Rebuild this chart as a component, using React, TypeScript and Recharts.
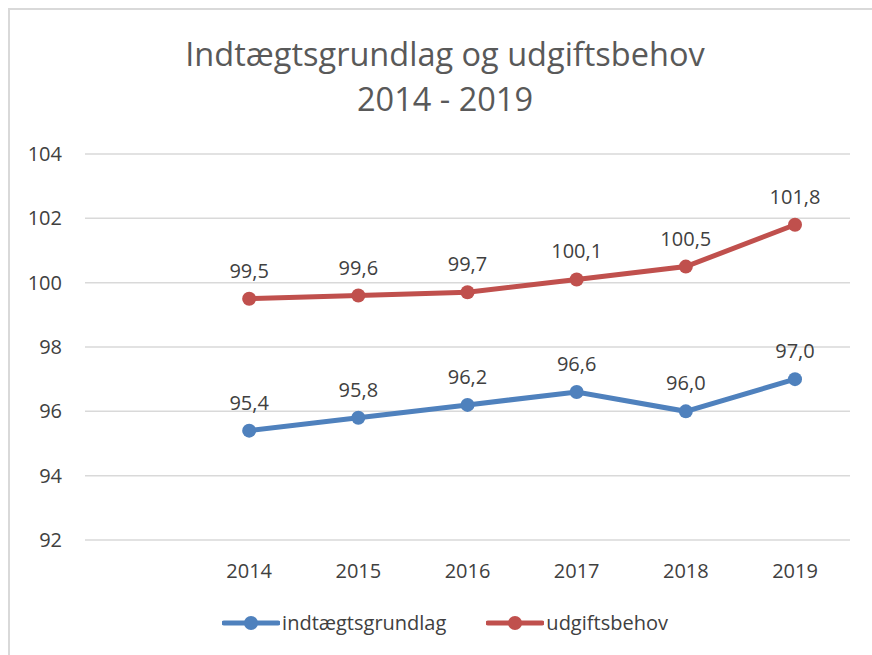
import { LineChart, Line, XAxis, YAxis, CartesianGrid, LabelList } from "recharts";

// første kategori er tom (Excel-diagrammet har en tom plads før 2014)
const years = ["", "2014", "2015", "2016", "2017", "2018", "2019"];
const indtaegt = [null, 95.4, 95.8, 96.2, 96.6, 96.0, 97.0];
const udgift = [null, 99.5, 99.6, 99.7, 100.1, 100.5, 101.8];
const yTicks = [92, 94, 96, 98, 100, 102, 104];

const BLUE = "#4f81bd";
const RED = "#c0504d";
const TEXT = "#404040";
const GRID = "#d9d9d9";
const FONT = "'Open Sans', 'Noto Sans', sans-serif";

const data = years.map((y, i) => ({ year: y, indtaegt: indtaegt[i], udgift: udgift[i] }));

const fmt = (v: any) => (v == null ? "" : Number(v).toFixed(1).replace(".", ","));

function LegendRow() {
  const items = [
    { name: "indtægtsgrundlag", color: BLUE },
    { name: "udgiftsbehov", color: RED },
  ];
  return (
    <div style={{ display: "flex", justifyContent: "center", gap: 40, fontFamily: FONT, fontSize: 20, color: TEXT }}>
      {items.map((it) => (
        <span key={it.name} style={{ display: "inline-flex", alignItems: "center" }}>
          <svg width={58} height={16} style={{ marginRight: 2 }}>
            <line x1={2} y1={8} x2={56} y2={8} stroke={it.color} strokeWidth={5} strokeLinecap="round" />
            <circle cx={29} cy={8} r={7} fill={it.color} />
          </svg>
          {it.name}
        </span>
      ))}
    </div>
  );
}

export default function App() {
  return (
    <div style={{ position: "absolute", left: 0, top: 0, width: 872, height: 655, background: "#fff", overflow: "hidden" }}>
      <div
        style={{
          position: "absolute",
          left: 8,
          top: 8,
          width: 900,
          height: 700,
          borderLeft: `2px solid ${GRID}`,
          borderTop: `2px solid ${GRID}`,
        }}
      />
      <div
        style={{
          position: "absolute",
          left: 0,
          top: 31,
          width: 890,
          textAlign: "center",
          fontFamily: FONT,
          fontSize: 32.5,
          lineHeight: "45px",
          color: "#595959",
        }}
      >
        Indtægtsgrundlag og udgiftsbehov
        <br />
        2014 - 2019
      </div>
      <div style={{ position: "absolute", left: 0, top: 0 }}>
        <LineChart width={872} height={655} data={data} margin={{ top: 154, right: 22, bottom: 85, left: 10 }}>
          <CartesianGrid horizontal vertical={false} stroke={GRID} strokeWidth={1.5} />
          <XAxis
            dataKey="year"
            axisLine={false}
            tickLine={false}
            tick={{ fontSize: 20, fill: TEXT, fontFamily: FONT }}
            tickMargin={18}
            interval={0}
            height={30}
            padding={{ left: 55, right: 55 }}
          />
          <YAxis
            domain={[92, 104]}
            ticks={yTicks}
            axisLine={false}
            tickLine={false}
            width={75}
            tickMargin={17}
            tick={{ fontSize: 20, fill: TEXT, fontFamily: FONT }}
          />
          <Line
            type="linear"
            dataKey="indtaegt"
            name="indtægtsgrundlag"
            stroke={BLUE}
            strokeWidth={5}
            dot={{ r: 7, fill: BLUE, stroke: BLUE, strokeWidth: 0 }}
            isAnimationActive={false}
          >
            <LabelList dataKey="indtaegt" position="top" offset={21} formatter={fmt} style={{ fontSize: 20, fill: TEXT, fontFamily: FONT }} />
          </Line>
          <Line
            type="linear"
            dataKey="udgift"
            name="udgiftsbehov"
            stroke={RED}
            strokeWidth={5}
            dot={{ r: 7, fill: RED, stroke: RED, strokeWidth: 0 }}
            isAnimationActive={false}
          >
            <LabelList dataKey="udgift" position="top" offset={21} formatter={fmt} style={{ fontSize: 20, fill: TEXT, fontFamily: FONT }} />
          </Line>
        </LineChart>
      </div>
      <div style={{ position: "absolute", left: 0, top: 609, width: 890 }}>
        <LegendRow />
      </div>
    </div>
  );
}
